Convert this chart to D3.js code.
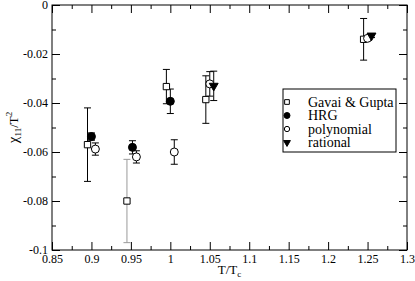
<!DOCTYPE html>
<html>
<head>
<meta charset="utf-8">
<script src="https://cdn.jsdelivr.net/npm/d3@7/dist/d3.min.js"></script>
<style>
  body { margin: 0; background: #fff; }
  svg text { font-family: "Liberation Serif", "Times New Roman", Times, "DejaVu Serif", serif; fill: #000; }
</style>
</head>
<body>
<svg width="415" height="281"></svg>
<script>
// Gavai & Gupta (open squares)
var gavaiT = [0.895, 0.945, 0.995, 1.045, 1.245];
var gavaiVal = [-0.057, -0.080, -0.0333, -0.0386, -0.014];
var gavaiErr = [0.015, 0.017, 0.007, 0.0097, 0.0085];

// HRG (filled circles)
var hrgT = [0.9, 0.952, 1.0];
var hrgVal = [-0.0537, -0.0581, -0.0393];
var hrgErr = [0.0015, 0.0027, 0.005];

// polynomial (open circles)
var polyT = [0.905, 0.957, 1.005, 1.05, 1.25];
var polyVal = [-0.0588, -0.062, -0.060, -0.0322, -0.0136];
var polyErr = [0.0025, 0.0025, 0.005, 0.005, 0.0008];

// rational (down triangles)
var ratT = [1.055, 1.255];
var ratVal = [-0.033, -0.0125];
var ratErr = [0.006, 0.0008];

var legendNames = ["Gavai & Gupta", "HRG", "polynomial", "rational"];

var xMajor = [0.85, 0.9, 0.95, 1, 1.05, 1.1, 1.15, 1.2, 1.25, 1.3];
var yMajor = [0, -0.02, -0.04, -0.06, -0.08, -0.1];

var FONT = "'Liberation Serif', 'Times New Roman', Times, serif";

var svg = d3.select("svg"),
    margin = { top: 5, right: 8, bottom: 31, left: 52 },
    width = +svg.attr("width") - margin.left - margin.right,
    height = +svg.attr("height") - margin.top - margin.bottom;

var x = d3.scaleLinear().domain([0.85, 1.3]).range([0, width]),
    y = d3.scaleLinear().domain([-0.1, 0]).range([height, 0]);

var g = svg.append("g")
    .attr("transform", "translate(" + margin.left + "," + margin.top + ")");

var xMinor = d3.range(0.875, 1.3, 0.05);
var yMinor = d3.range(-0.09, 0, 0.02);

function fmt(d) {
    return String(+d.toFixed(3));
}

function styleAxis(sel) {
    sel.attr("font-family", FONT).attr("font-size", 12);
    sel.select(".domain").remove();
    sel.selectAll("line").attr("stroke", "#000");
}

// major ticks with labels
g.append("g").attr("transform", "translate(0," + height + ")")
    .call(d3.axisBottom(x).tickValues(xMajor).tickFormat(fmt).tickSize(-8).tickPadding(4))
    .call(styleAxis);
g.append("g")
    .call(d3.axisLeft(y).tickValues(yMajor).tickFormat(fmt).tickSize(-8).tickPadding(4))
    .call(styleAxis);
// minor ticks
g.append("g").attr("transform", "translate(0," + height + ")")
    .call(d3.axisBottom(x).tickValues(xMinor).tickFormat("").tickSize(-4))
    .call(styleAxis);
g.append("g")
    .call(d3.axisLeft(y).tickValues(yMinor).tickFormat("").tickSize(-4))
    .call(styleAxis);
// top & right ticks
g.append("g")
    .call(d3.axisTop(x).tickValues(xMajor).tickFormat("").tickSize(-8))
    .call(styleAxis);
g.append("g")
    .call(d3.axisTop(x).tickValues(xMinor).tickFormat("").tickSize(-4))
    .call(styleAxis);
g.append("g").attr("transform", "translate(" + width + ",0)")
    .call(d3.axisRight(y).tickValues(yMajor).tickFormat("").tickSize(-8))
    .call(styleAxis);
g.append("g").attr("transform", "translate(" + width + ",0)")
    .call(d3.axisRight(y).tickValues(yMinor).tickFormat("").tickSize(-4))
    .call(styleAxis);

g.append("rect")
    .attr("width", width).attr("height", height)
    .attr("fill", "none").attr("stroke", "#000").attr("stroke-width", 1);

// axis titles
var xl = svg.append("text")
    .attr("x", margin.left + width / 2)
    .attr("y", 274)
    .attr("text-anchor", "middle")
    .attr("font-family", FONT)
    .attr("font-size", 13);
xl.append("tspan").text("T/T");
xl.append("tspan").attr("dy", 3).attr("font-size", 9).text("c");

var yl = svg.append("text")
    .attr("transform", "translate(18," + (margin.top + height / 2) + ") rotate(-90)")
    .attr("text-anchor", "middle")
    .attr("font-family", FONT)
    .attr("font-size", 15);
yl.append("tspan").text("\u03c7");
yl.append("tspan").attr("dy", 3).attr("font-size", 9).text("11");
yl.append("tspan").attr("dy", -3).attr("font-size", 13).text("/T");
yl.append("tspan").attr("dy", -6).attr("font-size", 9).text("2");

function series(t, v, e) {
    return t.map(function (d, i) { return { t: d, v: v[i], e: e[i] }; });
}

function errorBars(data, colorFn) {
    var eb = g.append("g").selectAll("g").data(data).enter().append("g")
        .attr("stroke", function (d, i) { return colorFn ? colorFn(i) : "#000"; })
        .attr("stroke-width", 1);
    eb.append("line")
        .attr("x1", function (d) { return x(d.t); })
        .attr("x2", function (d) { return x(d.t); })
        .attr("y1", function (d) { return y(d.v - d.e); })
        .attr("y2", function (d) { return y(d.v + d.e); });
    [-1, 1].forEach(function (s) {
        eb.append("line")
            .attr("x1", function (d) { return x(d.t) - 3.5; })
            .attr("x2", function (d) { return x(d.t) + 3.5; })
            .attr("y1", function (d) { return y(d.v + s * d.e); })
            .attr("y2", function (d) { return y(d.v + s * d.e); });
    });
}

var gavai = series(gavaiT, gavaiVal, gavaiErr),
    hrg = series(hrgT, hrgVal, hrgErr),
    poly = series(polyT, polyVal, polyErr),
    rat = series(ratT, ratVal, ratErr);

errorBars(gavai, function (i) { return i === 1 ? "#9a9a9a" : "#000"; });
errorBars(hrg);
errorBars(poly);
errorBars(rat);

var sq = d3.symbol().type(d3.symbolSquare).size(40),
    circ = d3.symbol().type(d3.symbolCircle).size(50),
    tri = d3.symbol().type(d3.symbolTriangle).size(34);

function markers(data, path, fill, rot) {
    g.append("g").selectAll("path").data(data).enter().append("path")
        .attr("d", path)
        .attr("transform", function (d) {
            return "translate(" + x(d.t) + "," + y(d.v) + ")" + (rot ? " rotate(180)" : "");
        })
        .attr("fill", fill)
        .attr("stroke", "#000")
        .attr("stroke-width", 1);
}

markers(gavai, sq(), "#fff");
markers(poly, circ(), "#fff");
markers(hrg, circ(), "#000");
markers(rat, tri(), "#000", true);

// legend
var lg = svg.append("g").attr("transform", "translate(283,89)");
lg.append("rect").attr("width", 113).attr("height", 63)
    .attr("fill", "#fff").attr("stroke", "#000").attr("stroke-width", 1);
var syms = [
    { p: d3.symbol().type(d3.symbolSquare).size(22)(), f: "#fff", r: false },
    { p: d3.symbol().type(d3.symbolCircle).size(28)(), f: "#000", r: false },
    { p: d3.symbol().type(d3.symbolCircle).size(22)(), f: "#fff", r: false },
    { p: d3.symbol().type(d3.symbolTriangle).size(20)(), f: "#000", r: true }
];
legendNames.forEach(function (name, i) {
    var yy = 13 + i * 13.5;
    lg.append("path").attr("d", syms[i].p)
        .attr("transform", "translate(4," + yy + ")" + (syms[i].r ? " rotate(180)" : ""))
        .attr("fill", syms[i].f).attr("stroke", "#000");
    lg.append("text").attr("x", 25).attr("y", yy + 4.5)
        .attr("font-family", FONT).attr("font-size", 14).text(name);
});
</script>
</body>
</html>
